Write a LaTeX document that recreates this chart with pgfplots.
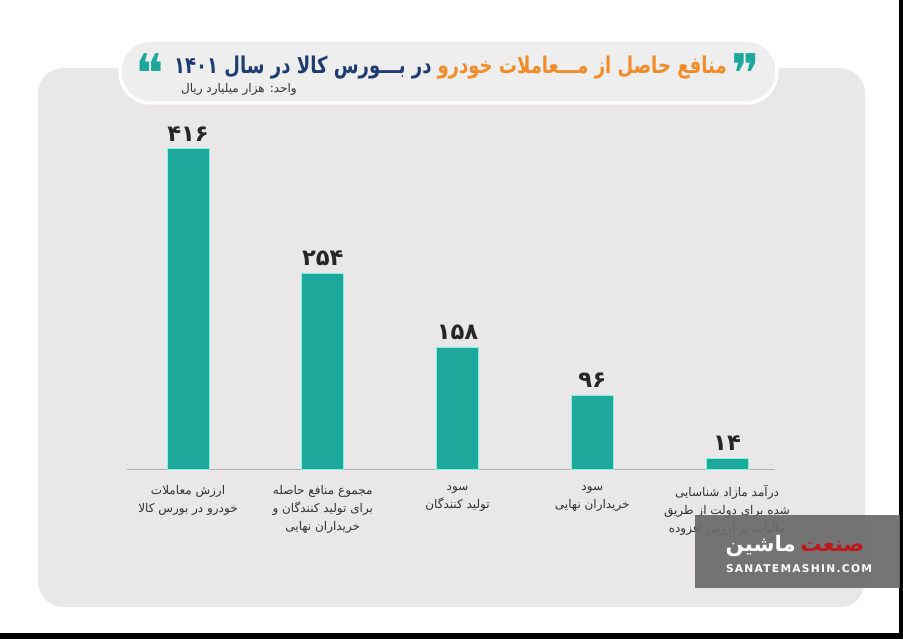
\documentclass[border=0pt]{standalone}
\usepackage{pgfplots}
\pgfplotsset{compat=1.18}
\usepackage{fontspec}
\setmainfont{DejaVu Sans}
\newfontfamily\arabicfont[Script=Arabic]{DejaVu Sans}
\TeXXeTstate=1
\definecolor{panel}{HTML}{E9E7E8}
\definecolor{pill}{HTML}{EFEEEF}
\definecolor{teal1}{HTML}{1CA99B}
\definecolor{tealedge}{HTML}{8AF0E6}
\definecolor{orng}{HTML}{F28C28}
\definecolor{navy}{HTML}{1E3C72}
\definecolor{txt}{HTML}{333333}
\definecolor{wm}{HTML}{6A6A6A}
\definecolor{wmred}{HTML}{C0171C}
\begin{document}
\begin{tikzpicture}[x=0.75pt,y=0.75pt]
\path[use as bounding box] (0,0) rectangle (903,639);
\fill[white] (0,0) rectangle (903,639);
\fill[black] (0,0) rectangle (903,6);
\fill[black] (899,0) rectangle (903,639);
\fill[panel, rounded corners=19pt] (38,32) rectangle (865,571);
\filldraw[fill=pill, draw=white, line width=2.5pt, rounded corners=23pt] (120,536) rectangle (777,599);
\node[anchor=east, inner sep=0pt, text=orng] (t1) at (727,571) {\scalebox{0.82}[1.05]{\arabicfont\bfseries\fontsize{16.5}{20}\selectfont\beginR منافع حاصل از مـــعاملات خودرو\endR}};
\node[anchor=east, inner sep=0pt, text=navy] at ([xshift=-4pt]t1.west) {\scalebox{0.82}[1.05]{\arabicfont\bfseries\fontsize{16.5}{20}\selectfont\beginR در بـــورس کالا در سال ۱۴۰۱\endR}};
\node[anchor=east, inner sep=0pt] at (297,550) {\arabicfont\fontsize{9}{11}\selectfont\color{txt}\beginR واحد: هزار میلیارد ریال\endR};
\node[inner sep=0pt, text=teal1] at (150,566) {\fontsize{40}{40}\selectfont ❝};
\node[inner sep=0pt, text=teal1] at (746,566) {\fontsize{40}{40}\selectfont ❞};
\begin{axis}[
  at={(95.25pt,127.5pt)}, anchor=south west,
  scale only axis,
  x=101.0625pt, y=0.5775pt,
  xmin=-0.453, xmax=4.356, ymin=0, ymax=440,
  axis x line*=bottom, axis y line=none,
  axis line style={draw=black!30, -, line width=0.6pt},
  xtick={0,1,2,3,4}, major tick length=0pt,
  xticklabels={
    {\beginR ارزش معاملات\endR\\\beginR خودرو در بورس کالا\endR},
    {\beginR مجموع منافع حاصله\endR\\\beginR برای تولید کنندگان و\endR\\\beginR خریداران نهایی\endR},
    {\beginR سود\endR\\\beginR تولید کنندگان\endR},
    {\beginR سود\endR\\\beginR خریداران نهایی\endR},
    {\beginR درآمد مازاد شناسایی\endR\\\beginR شده برای دولت از طریق\endR\\\beginR مالیات بر ارزش افزوده\endR}
  },
  xticklabel style={font=\arabicfont\fontsize{9}{13.5}\selectfont, align=center, text=txt, yshift=-8.5pt},
  clip=false,
]
\addplot[ybar, bar width=31.5pt, fill=teal1, draw=tealedge, line width=0.6pt,
  point meta=explicit symbolic, nodes near coords,
  nodes near coords style={font=\arabicfont\bfseries\fontsize{17}{20}\selectfont, text=black!85, yshift=2pt}]
  coordinates {(0,416)[۴۱۶] (1,254)[۲۵۴] (2,158)[۱۵۸] (3,96)[۹۶] (4,14)[۱۴]};
\end{axis}
\fill[wm, opacity=0.92] (695,51) rectangle (900,124);
\node[anchor=west, inner sep=0pt, text=wmred] (w1) at (800,93) {\arabicfont\bfseries\fontsize{16}{20}\selectfont\beginR صنعت\endR};
\node[anchor=east, inner sep=0pt, text=white] at (796,93) {\arabicfont\bfseries\fontsize{16}{20}\selectfont\beginR ماشین\endR};
\node[inner sep=0pt] at (799,70) {\bfseries\fontsize{8}{10}\selectfont\addfontfeature{LetterSpace=12}\color{white}SANATEMASHIN.COM};
\end{tikzpicture}
\end{document}
